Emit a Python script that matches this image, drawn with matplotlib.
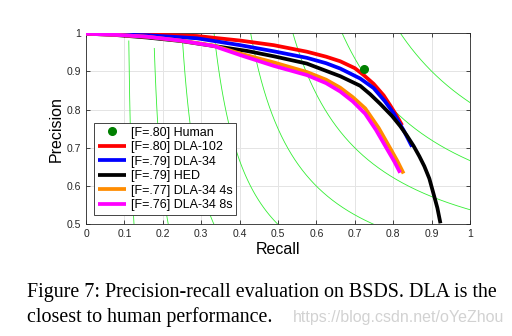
import numpy as np
import matplotlib
matplotlib.use("Agg")
import matplotlib.pyplot as plt

# ---- data ----
human_r, human_p = [0.723], [0.905]

red_r = [0, 0.08, 0.159, 0.289, 0.402, 0.489, 0.575, 0.625, 0.662, 0.70, 0.723, 0.749,
         0.775, 0.792, 0.81, 0.823]
red_p = [0.998, 0.997, 0.996, 0.992, 0.980, 0.968, 0.951, 0.938, 0.926, 0.908, 0.890, 0.867,
         0.837, 0.811, 0.782, 0.759]

blue_r = [0, 0.08, 0.159, 0.289, 0.402, 0.489, 0.575, 0.625, 0.662, 0.714, 0.749, 0.778,
          0.80, 0.814, 0.827, 0.849]
blue_p = [0.998, 0.996, 0.994, 0.986, 0.968, 0.952, 0.935, 0.921, 0.907, 0.881, 0.856, 0.822,
          0.792, 0.768, 0.746, 0.703]

black_r = [0, 0.072, 0.159, 0.246, 0.332, 0.419, 0.489, 0.575, 0.662, 0.714, 0.740, 0.766,
           0.797, 0.818, 0.835, 0.853, 0.868, 0.881, 0.894, 0.905, 0.915, 0.923]
black_p = [0.998, 0.995, 0.988, 0.979, 0.966, 0.953, 0.939, 0.920, 0.887, 0.862, 0.840, 0.815,
           0.783, 0.757, 0.733, 0.705, 0.678, 0.652, 0.620, 0.580, 0.543, 0.503]

orange_r = [0, 0.08, 0.159, 0.246, 0.332, 0.402, 0.489, 0.575, 0.625, 0.662, 0.695, 0.727,
            0.762, 0.792, 0.81, 0.827]
orange_p = [0.998, 0.995, 0.990, 0.980, 0.967, 0.946, 0.923, 0.898, 0.878, 0.857, 0.832, 0.803,
            0.752, 0.699, 0.667, 0.633]

magenta_r = [0, 0.08, 0.159, 0.246, 0.332, 0.402, 0.489, 0.575, 0.625, 0.662, 0.695, 0.727,
             0.755, 0.785, 0.803, 0.818]
magenta_p = [0.998, 0.995, 0.990, 0.980, 0.966, 0.942, 0.914, 0.890, 0.869, 0.847, 0.821, 0.789,
             0.747, 0.695, 0.664, 0.635]

labels = ["[F=.80] Human", "[F=.80] DLA-102", "[F=.79] DLA-34", "[F=.79] HED",
          "[F=.77] DLA-34 4s", "[F=.76] DLA-34 8s"]
iso_f = [0.1, 0.2, 0.3, 0.4, 0.5, 0.6, 0.7, 0.8, 0.9]
xticks = [0, 0.1, 0.2, 0.3, 0.4, 0.5, 0.6, 0.7, 0.8, 0.9, 1]
xticklabels = ["0", "0.1", "0.2", "0.3", "0.4", "0.5", "0.6", "0.7", "0.8", "0.9", "1"]
yticks = [0.5, 0.6, 0.7, 0.8, 0.9, 1]
yticklabels = ["0.5", "0.6", "0.7", "0.8", "0.9", "1"]

plt.rcParams['font.family'] = ['Liberation Sans', 'DejaVu Sans']

fig = plt.figure(figsize=(5.12, 3.36), dpi=100)
ax = fig.add_axes([0.168, 0.332, 0.75, 0.570])

# iso-F curves
for f in iso_f:
    r = np.linspace(f / 2 + 1e-4, 1, 400)
    p = f * r / (2 * r - f)
    m = (p >= 0.49) & (p <= 1.01)
    ax.plot(r[m], p[m], color='#33ee33', lw=0.6, zorder=1)

lw = 2.7
kw = dict(lw=lw, zorder=3, solid_capstyle='butt', solid_joinstyle='round')
h0, = ax.plot(human_r, human_p, 'o', color='#008000', ms=5.5, zorder=5)
h1, = ax.plot(red_r, red_p, color='red', **kw)
h2, = ax.plot(blue_r, blue_p, color='blue', **kw)
h3, = ax.plot(black_r, black_p, color='black', **kw)
h4, = ax.plot(orange_r, orange_p, color='#ff8c00', **kw)
h5, = ax.plot(magenta_r, magenta_p, color='magenta', **kw)

ax.set_xlim(0, 1)
ax.set_ylim(0.5, 1)
ax.set_xticks(xticks)
ax.set_xticklabels(xticklabels)
ax.set_yticks(yticks)
ax.set_yticklabels(yticklabels)
ax.grid(True, color='#e4e4e4', lw=0.7)
ax.set_axisbelow(True)
ax.tick_params(direction='in', top=True, right=True, labelsize=7.5,
               colors='#262626', length=3, width=0.6)
for s in ax.spines.values():
    s.set_color('#262626')
    s.set_linewidth(0.6)
ax.set_xlabel("Recall", fontsize=11.5, labelpad=2)
ax.set_ylabel("Precision", fontsize=11.5, labelpad=2)

leg = ax.legend([h0, h1, h2, h3, h4, h5], labels, loc='lower left',
                bbox_to_anchor=(0.022, 0.049), borderaxespad=0, fontsize=9,
                labelspacing=0.2, handlelength=2.2, handletextpad=0.4,
                borderpad=0.3, fancybox=False, framealpha=1, edgecolor='#262626')
leg.get_frame().set_linewidth(0.6)

fig.text(0.053, 0.117, "Figure 7: Precision-recall evaluation on BSDS. DLA is the",
         family='Liberation Serif', fontsize=14.4, va='baseline', ha='left')
fig.text(0.053, 0.043, "closest to human performance.",
         family='Liberation Serif', fontsize=14.4, va='baseline', ha='left')
fig.text(0.572, 0.043, "https://blog.csdn.net/oYeZhou",
         fontsize=11.5, color='#d2d2d2', va='baseline', ha='left')

fig.savefig("out.png", dpi=100)
